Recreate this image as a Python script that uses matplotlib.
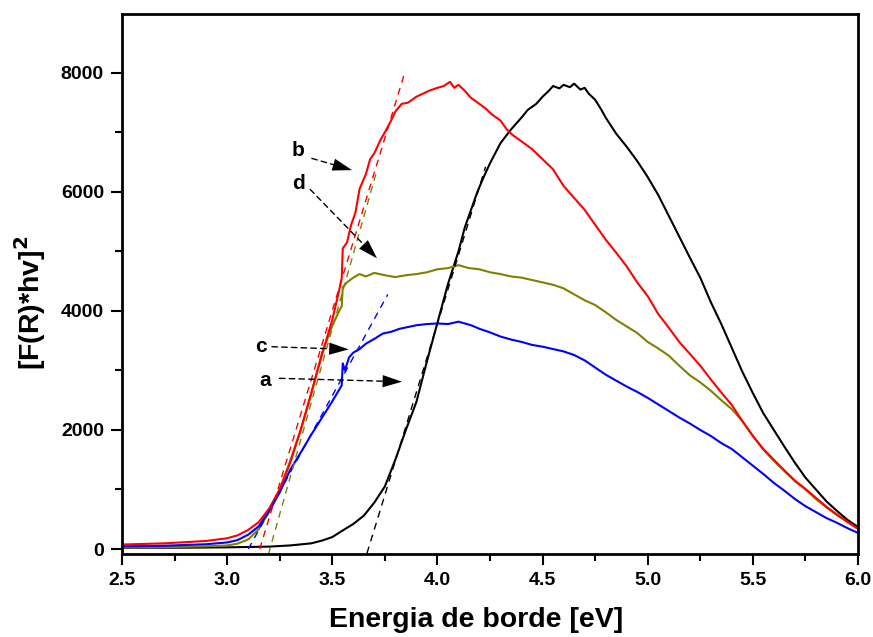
import matplotlib
matplotlib.use("Agg")
import matplotlib.pyplot as plt
from matplotlib.ticker import MultipleLocator

plt.rcParams['font.family'] = ['Liberation Sans', 'DejaVu Sans']
plt.rcParams['font.weight'] = 'bold'

# ---- data ----
a_x = [2.5, 2.8, 3.0, 3.2, 3.3, 3.4, 3.45, 3.5, 3.54, 3.6, 3.65, 3.7, 3.75, 3.8, 3.85,
       3.9, 3.95, 4.0, 4.05, 4.1, 4.13, 4.16, 4.19, 4.22, 4.25, 4.3, 4.35, 4.4, 4.43,
       4.47, 4.5, 4.53, 4.55, 4.58, 4.6, 4.63, 4.65, 4.68, 4.7, 4.72, 4.75, 4.78, 4.8,
       4.85, 4.9, 4.95, 5.0, 5.05, 5.1, 5.15, 5.2, 5.25, 5.3, 5.35, 5.4, 5.45, 5.5,
       5.55, 5.6, 5.65, 5.7, 5.75, 5.8, 5.85, 5.9, 5.95, 6.0]
a_y = [20, 22, 28, 40, 60, 95, 140, 200, 290, 420, 560, 780, 1050, 1500, 2000,
       2470, 3150, 3800, 4450, 5000, 5400, 5700, 6000, 6250, 6480, 6820, 7050, 7250, 7380,
       7480, 7600, 7700, 7780, 7740, 7800, 7760, 7820, 7720, 7750, 7650, 7550, 7380, 7250,
       6980, 6760, 6520, 6250, 5950, 5600, 5250, 4900, 4560, 4150, 3780, 3380, 2980, 2620,
       2280, 2000, 1720, 1450, 1200, 1000, 800, 640, 490, 370]

b_x = [2.5, 2.7, 2.9, 3.0, 3.05, 3.1, 3.15, 3.2, 3.25, 3.3, 3.35, 3.4, 3.45, 3.5, 3.53,
       3.545, 3.55, 3.57, 3.59, 3.61, 3.63, 3.66, 3.68, 3.7, 3.73, 3.75, 3.78, 3.8, 3.83,
       3.86, 3.9, 3.93, 3.96, 4.0, 4.03, 4.06, 4.08, 4.1, 4.13, 4.16, 4.2, 4.23, 4.26,
       4.3, 4.33, 4.36, 4.4, 4.45, 4.5, 4.55, 4.6, 4.65, 4.7, 4.75, 4.8, 4.85, 4.9, 4.95,
       5.0, 5.05, 5.1, 5.15, 5.2, 5.25, 5.3, 5.35, 5.4, 5.45, 5.5, 5.55, 5.6, 5.65, 5.7,
       5.75, 5.8, 5.85, 5.9, 5.95, 6.0]
b_y = [75, 95, 135, 180, 230, 320, 450, 680, 1000, 1450, 2000, 2620, 3250, 3850, 4300,
       4550, 5050, 5150, 5450, 5650, 6050, 6300, 6550, 6650, 6880, 7000, 7200, 7350, 7480,
       7500, 7600, 7650, 7700, 7750, 7780, 7850, 7750, 7800, 7700, 7580, 7480, 7400, 7300,
       7200, 7050, 6950, 6850, 6720, 6550, 6380, 6100, 5900, 5700, 5450, 5200, 4980, 4750, 4480,
       4250, 3950, 3720, 3480, 3280, 3080, 2850, 2630, 2420, 2150, 1900, 1680, 1500, 1320, 1150,
       1010, 860, 710, 580, 460, 340]

c_x = [2.5, 2.7, 2.9, 3.0, 3.05, 3.1, 3.15, 3.2, 3.25, 3.3, 3.35, 3.4, 3.45, 3.5, 3.545,
       3.55, 3.56, 3.58, 3.6, 3.63, 3.66, 3.7, 3.74, 3.78, 3.82, 3.86, 3.9, 3.95, 4.0,
       4.05, 4.1, 4.13, 4.16, 4.2, 4.25, 4.3, 4.35, 4.4, 4.45, 4.5, 4.55, 4.6, 4.65, 4.7,
       4.75, 4.8, 4.85, 4.9, 4.95, 5.0, 5.05, 5.1, 5.15, 5.2, 5.25, 5.3, 5.35, 5.4, 5.45,
       5.5, 5.55, 5.6, 5.65, 5.7, 5.75, 5.8, 5.85, 5.9, 5.95, 6.0]
c_y = [45, 55, 80, 110, 150, 240, 380, 640, 950, 1330, 1620, 1920, 2200, 2480, 2750,
       3120, 3000, 3220, 3300, 3360, 3450, 3530, 3620, 3650, 3700, 3730, 3760, 3780, 3790,
       3780, 3820, 3790, 3760, 3700, 3640, 3570, 3520, 3480, 3430, 3400, 3360, 3320, 3260, 3170,
       3050, 2930, 2830, 2730, 2640, 2540, 2430, 2320, 2210, 2110, 2000, 1900, 1780, 1680, 1540,
       1400, 1260, 1110, 980, 840, 720, 620, 520, 440, 350, 270]

d_x = [2.5, 2.7, 2.9, 3.0, 3.05, 3.1, 3.15, 3.2, 3.25, 3.3, 3.35, 3.4, 3.45, 3.5, 3.53,
       3.545, 3.55, 3.57, 3.6, 3.63, 3.66, 3.7, 3.75, 3.8, 3.85, 3.9, 3.95, 4.0, 4.05,
       4.1, 4.15, 4.2, 4.25, 4.3, 4.35, 4.4, 4.45, 4.5, 4.55, 4.6, 4.65, 4.7, 4.75, 4.8,
       4.85, 4.9, 4.95, 5.0, 5.05, 5.1, 5.15, 5.2, 5.25, 5.3, 5.35, 5.4, 5.45, 5.5, 5.55,
       5.6, 5.65, 5.7, 5.75, 5.8, 5.85, 5.9, 5.95, 6.0]
d_y = [25, 30, 45, 60, 90, 160, 330, 620, 1000, 1480, 2000, 2600, 3280, 3750, 3980,
       4080, 4400, 4480, 4560, 4620, 4580, 4640, 4600, 4570, 4600, 4620, 4650, 4700, 4720,
       4770, 4720, 4700, 4650, 4620, 4580, 4560, 4520, 4480, 4440, 4380, 4280, 4180, 4100, 3980,
       3850, 3740, 3630, 3480, 3370, 3250, 3080, 2920, 2800, 2660, 2500, 2350, 2150, 1900, 1670,
       1480, 1310, 1140, 1000, 840, 700, 570, 450, 340]

# tangent (band-gap) lines: start and end points
tan_a = ([3.665, 4.229], [-73, 6423])
tan_b = ([3.155, 3.84], [0, 7950])
tan_c = ([3.101, 3.764], [0, 4278])
tan_d = ([3.197, 3.713], [-80, 6370])

labels = ['a', 'b', 'c', 'd']
label_text_pos = [(3.181, 2839), (3.338, 6703), (3.160, 3399), (3.338, 6146)]
arrow_start = [(3.249, 2868), (3.403, 6564), (3.213, 3399), (3.395, 6043)]
arrow_tip = [(3.832, 2811), (3.594, 6367), (3.578, 3355), (3.713, 4884)]

x_ticks = [2.5, 3.0, 3.5, 4.0, 4.5, 5.0, 5.5, 6.0]
y_ticks = [0, 2000, 4000, 6000, 8000]

# ---- figure ----
fig = plt.figure(figsize=(8.73, 6.37), dpi=100)
ax = fig.add_axes([0.1397, 0.1303, 0.8431, 0.8477])

lw = 1.5
ax.plot(a_x, a_y, color='black', lw=lw)
ax.plot(d_x, d_y, color='#808000', lw=lw)
ax.plot(c_x, c_y, color='#0000FF', lw=lw)
ax.plot(b_x, b_y, color='#FF0000', lw=lw)

ax.plot(*tan_a, color='black', lw=1.0, ls=(0, (5, 4)))
ax.plot(*tan_b, color='#FF0000', lw=1.0, ls=(0, (5, 4)))
ax.plot(*tan_c, color='#0000FF', lw=1.0, ls=(0, (5, 4)))
ax.plot(*tan_d, color='#808000', lw=1.0, ls=(0, (5, 4)))

for lab, tp, st, tip in zip(labels, label_text_pos, arrow_start, arrow_tip):
    ax.text(tp[0], tp[1], lab, fontsize=15, fontweight='bold', ha='center', va='center')
    # dashed shaft
    ax.annotate('', xy=tip, xytext=st,
                arrowprops=dict(arrowstyle='-', linestyle=(0, (4, 3)),
                                color='black', lw=1.0, shrinkA=0, shrinkB=7))
    # solid filled head
    ax.annotate('', xy=tip, xytext=st,
                arrowprops=dict(arrowstyle='-|>,head_length=0.7,head_width=0.22',
                                mutation_scale=20, color='black', lw=0.0,
                                shrinkA=0, shrinkB=0))

ax.set_xlim(2.5, 6.0)
ax.set_ylim(-84, 8990)
ax.set_xticks(x_ticks)
ax.set_xticklabels([f"{v:.1f}" for v in x_ticks])
ax.set_yticks(y_ticks)
ax.set_yticklabels([str(v) for v in y_ticks])
ax.xaxis.set_minor_locator(MultipleLocator(0.25))
ax.yaxis.set_minor_locator(MultipleLocator(1000))

ax.tick_params(axis='both', which='major', direction='out', length=8, width=1.5,
               labelsize=14, pad=5)
ax.tick_params(axis='both', which='minor', direction='out', length=5, width=1.5)
for lbl in ax.get_xticklabels() + ax.get_yticklabels():
    lbl.set_fontweight('bold')
for sp in ax.spines.values():
    sp.set_linewidth(2)

ax.set_xlabel('Energia de borde [eV]', fontsize=20.5, fontweight='bold')
ax.set_ylabel(r'[F(R)*hv]$^\mathbf{2}$', fontsize=20.5, fontweight='bold')
ax.xaxis.set_label_coords(0.481, -0.098)
ax.yaxis.set_label_coords(-0.1, 0.465)

fig.savefig('out.png', dpi=100)
